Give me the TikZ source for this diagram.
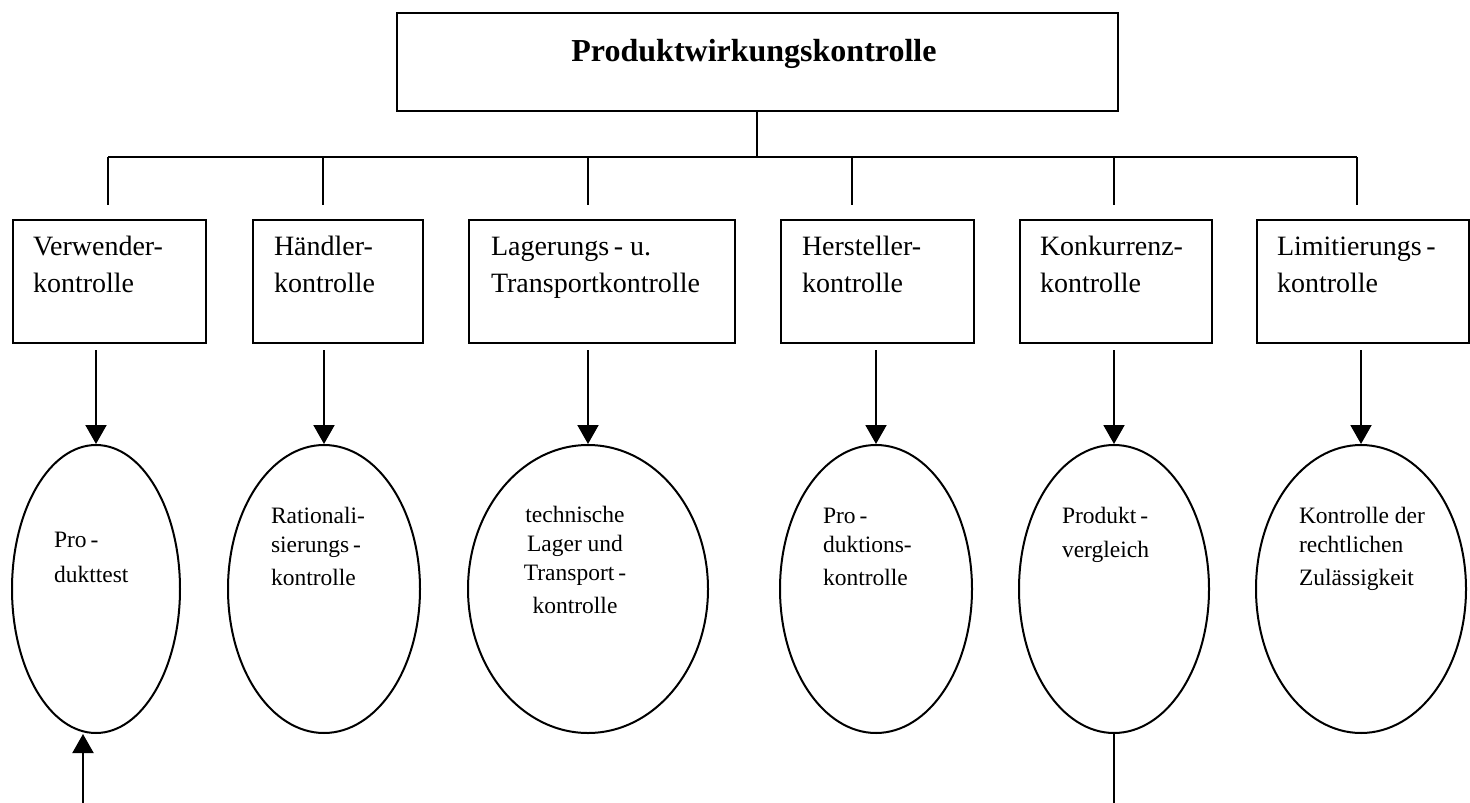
\documentclass[tikz,border=0pt]{standalone}
\usepackage{fontspec}
\setmainfont{Liberation Serif}
\usetikzlibrary{arrows.meta,shapes.geometric,calc}
\begin{document}
\begin{tikzpicture}[x=1pt,y=-1pt,line width=2pt,
  boxst/.style={draw,rectangle,inner sep=0pt,anchor=north west},
  ellst/.style={draw,ellipse,inner sep=0pt,minimum height=288},
  titletext/.style={font=\fontsize{32}{38}\selectfont\bfseries,inner sep=0pt,anchor=base},
  boxtext/.style={font=\fontsize{28}{37}\selectfont,align=left,inner sep=0pt,anchor=base west},
  elltext/.style={font=\fontsize{23.5}{29}\selectfont,align=left,inner sep=0pt,anchor=base west},
  arr/.style={-{Triangle[width=21pt,length=19pt]}}]
\useasboundingbox (0,0) rectangle (1470,803);
% title
\node[boxst,minimum width=721,minimum height=98] (top) at (396,12) {};
\node[titletext] (ttl) at (754,61) {Produktwirkungskontrolle};
% second level boxes
\node[boxst,minimum width=193,minimum height=123] (b1) at (12,219) {};
\node[boxst,minimum width=170,minimum height=123] (b2) at (252,219) {};
\node[boxst,minimum width=266,minimum height=123] (b3) at (468,219) {};
\node[boxst,minimum width=193,minimum height=123] (b4) at (780,219) {};
\node[boxst,minimum width=192,minimum height=123] (b5) at (1019,219) {};
\node[boxst,minimum width=212,minimum height=123] (b6) at (1256,219) {};
\node[boxtext] (t1) at (32,292) {Verwender-\\kontrolle};
\node[boxtext] (t2) at (273,292) {Händler-\\kontrolle};
\node[boxtext] (t3) at (490,292) {Lagerungs\,- u.\\Transportkontrolle};
\node[boxtext] (t4) at (801,292) {Hersteller-\\kontrolle};
\node[boxtext] (t5) at (1039,292) {Konkurrenz-\\kontrolle};
\node[boxtext] (t6) at (1276,292) {Limitierungs\,-\\kontrolle};
% bus
\coordinate (bc) at (757,157);
\coordinate (bl) at (108,157);
\coordinate (br) at (1357,157);
\coordinate (d1) at (108,205);
\coordinate (d2) at (323,205);
\coordinate (d3) at (588,205);
\coordinate (d4) at (852,205);
\coordinate (d5) at (1114,205);
\coordinate (d6) at (1357,205);
\draw (top.south -| bc) -- (bc);
\draw (bl) -- (br);
\foreach \i in {1,...,6} {\draw (d\i |- bc) -- (d\i);}
% ellipses
\node[ellst,minimum width=168] (e1) at (96,589) {};
\node[ellst,minimum width=192] (e2) at (324,589) {};
\node[ellst,minimum width=240] (e3) at (588,589) {};
\node[ellst,minimum width=192] (e4) at (876,589) {};
\node[ellst,minimum width=190] (e5) at (1114,589) {};
\node[ellst,minimum width=210] (e6) at (1361,589) {};
\foreach \i in {1,...,6} {\draw[arr] ($(e\i.north |- b\i.south)+(0,6)$) -- (e\i.north);}
% ellipse texts
\node[elltext] (u1) at (53,582) {Pro\,-\\[6pt]dukttest};
\node[elltext] (u2) at (270,585) {Rationali-\\sierungs\,-\\[4pt]kontrolle};
\node[elltext,align=center,anchor=base] (u3) at (575,613) {technische\\Lager und\\Transport\,-\\[4pt]kontrolle};
\node[elltext] (u4) at (822,585) {Pro\,-\\duktions-\\[4pt]kontrolle};
\node[elltext] (u5) at (1061,557) {Produkt\,-\\[5pt]vergleich};
\node[elltext] (u6) at (1298,585) {Kontrolle der\\rechtlichen\\[4pt]Zulässigkeit};
% bottom connectors
\coordinate (in1) at (83,803);
\coordinate (out5) at (1114,803);
\draw[arr] (in1) -- (e1.south -| in1);
\draw (e5.south) -- (out5);
\end{tikzpicture}
\end{document}
